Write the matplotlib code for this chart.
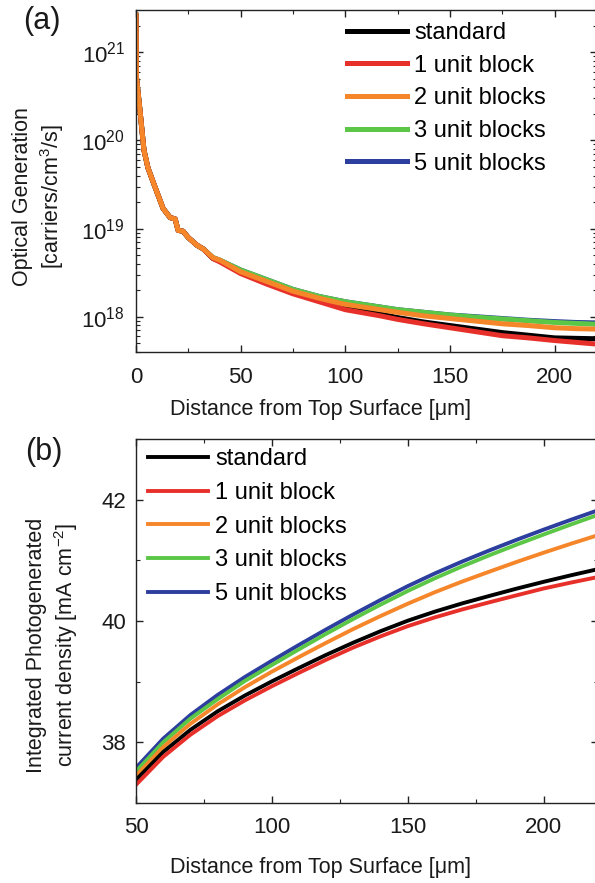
import numpy as np
import matplotlib.pyplot as plt
from matplotlib.ticker import MultipleLocator, LogLocator, LogFormatterSciNotation, NullFormatter

plt.rcParams['font.family'] = ['Liberation Sans', 'DejaVu Sans']
plt.rcParams['mathtext.fontset'] = 'custom'
plt.rcParams['mathtext.rm'] = 'Liberation Sans'
plt.rcParams['mathtext.it'] = 'Liberation Sans:italic'
plt.rcParams['mathtext.bf'] = 'Liberation Sans:bold'

# (a) optical generation profile, stored as log10(G)
depth_a = [0, 0.2, 1.9, 3.8, 5.7, 9.1, 11.5, 12.9, 16.3, 18.7, 20.1, 22.5, 24.9,
           29.2, 32.1, 36.8, 40.2, 50, 62.5, 75, 87.5, 100, 116.7, 125, 137.5,
           150, 162.5, 175, 187.5, 200, 210, 220]
head = [21.42, 20.72, 20.34, 19.89, 19.69, 19.47, 19.32, 19.23, 19.125, 19.11,
        18.98, 18.97, 18.90, 18.81, 18.77]
gen_blue = head + [18.67, 18.64, 18.53, 18.42, 18.31, 18.23, 18.17, 18.11, 18.08,
                   18.05, 18.02, 18.00, 17.98, 17.96, 17.945, 17.935, 17.93]
gen_green = head + [18.67, 18.64, 18.53, 18.42, 18.31, 18.23, 18.17, 18.11, 18.08,
                    18.05, 18.02, 17.995, 17.975, 17.955, 17.935, 17.925, 17.915]
gen_orange = head + [18.67, 18.64, 18.51, 18.40, 18.29, 18.21, 18.14, 18.08, 18.05,
                     18.01, 17.98, 17.95, 17.92, 17.90, 17.875, 17.865, 17.86]
gen_black = head + [18.66, 18.63, 18.50, 18.38, 18.27, 18.18, 18.10, 18.03, 17.99,
                    17.94, 17.90, 17.86, 17.82, 17.79, 17.76, 17.755, 17.75]
gen_red = head + [18.66, 18.62, 18.49, 18.37, 18.26, 18.17, 18.08, 18.01, 17.97,
                  17.92, 17.875, 17.83, 17.785, 17.76, 17.73, 17.71, 17.69]

# (b) integrated photogenerated current density [mA/cm2]
depth_b = [50, 60, 70, 80, 90, 100, 110, 120, 130, 140, 150, 160, 170, 180, 190, 200, 210, 220]
jph_blue = [37.58, 38.06, 38.45, 38.78, 39.075, 39.345, 39.607, 39.862, 40.109, 40.347,
            40.575, 40.785, 40.98, 41.163, 41.338, 41.506, 41.668, 41.825]
jph_green = [37.52, 38.00, 38.39, 38.71, 39.01, 39.275, 39.535, 39.79, 40.035, 40.27,
             40.495, 40.705, 40.90, 41.083, 41.258, 41.426, 41.59, 41.75]
jph_orange = [37.45, 37.922, 38.304, 38.624, 38.907, 39.165, 39.407, 39.642, 39.869, 40.082,
              40.285, 40.475, 40.65, 40.813, 40.973, 41.126, 41.273, 41.415]
jph_black = [37.38, 37.84, 38.205, 38.51, 38.77, 39.005, 39.227, 39.442, 39.644, 39.832,
             40.005, 40.155, 40.29, 40.413, 40.533, 40.646, 40.753, 40.855]
jph_red = [37.30, 37.76, 38.125, 38.43, 38.69, 38.925, 39.147, 39.362, 39.564, 39.747,
           39.915, 40.06, 40.19, 40.308, 40.423, 40.536, 40.633, 40.725]

labels = ['standard', '1 unit block', '2 unit blocks', '3 unit blocks', '5 unit blocks']
colors = ['#000000', '#e8302a', '#f5862a', '#5cc646', '#2c3f9e']

W, H = 595, 883
fig = plt.figure(figsize=(W / 100, H / 100), dpi=100)


def px_axes(left, top, right, bottom):
    return fig.add_axes([left / W, 1 - bottom / H, (right - left) / W, (bottom - top) / H])


def style(ax):
    for s in ax.spines.values():
        s.set_linewidth(1.0)
        s.set_color('#222222')
    ax.tick_params(which='both', direction='in', top=True, right=True,
                   colors='#222222', labelcolor='#1a1a1a', labelsize=15)
    ax.tick_params(which='major', length=5, width=1)
    ax.tick_params(which='minor', length=3, width=0.8)


# ---- panel (a)
ax1 = px_axes(136, 10, 596.5, 352)
series_a = [gen_black, gen_red, gen_orange, gen_green, gen_blue]
handles = {}
for i in [4, 3, 0, 1, 2]:
    handles[i], = ax1.plot(depth_a, 10 ** np.array(series_a[i]), color=colors[i],
                           lw=3.6, solid_joinstyle='round')
ax1.set_yscale('log')
ax1.set_xlim(0, 220)
ax1.set_ylim(10 ** 17.6, 10 ** 21.48)
ax1.xaxis.set_major_locator(MultipleLocator(50))
ax1.xaxis.set_minor_locator(MultipleLocator(25))
ax1.yaxis.set_major_locator(LogLocator(base=10, numticks=10))
ax1.yaxis.set_minor_locator(LogLocator(base=10, subs=np.arange(2, 10), numticks=20))
ax1.yaxis.set_major_formatter(LogFormatterSciNotation())
ax1.yaxis.set_minor_formatter(NullFormatter())
style(ax1)
ax1.tick_params(axis='y', which='both', pad=8)
ax1.tick_params(axis='y', labelsize=16)
ax1.tick_params(axis='x', pad=11, labelsize=16)
ax1.legend([handles[i] for i in range(5)], labels, loc='upper left',
           bbox_to_anchor=(347 / W, 1 - 22 / H), bbox_transform=fig.transFigure,
           frameon=False, fontsize=17, handlelength=2.55, handletextpad=0.3,
           labelspacing=0.45, borderpad=0, borderaxespad=0)

# ---- panel (b)
ax2 = px_axes(136, 439, 598, 803)
series_b = [jph_black, jph_red, jph_orange, jph_green, jph_blue]
hb = {}
for i in [4, 3, 2, 0, 1]:
    hb[i], = ax2.plot(depth_b, series_b[i], color=colors[i], lw=2.8)
ax2.set_xlim(50, 220)
ax2.set_ylim(37, 43)
ax2.xaxis.set_major_locator(MultipleLocator(50))
ax2.xaxis.set_minor_locator(MultipleLocator(25))
ax2.yaxis.set_major_locator(MultipleLocator(2))
ax2.yaxis.set_minor_locator(MultipleLocator(1))
style(ax2)
ax2.tick_params(axis='y', pad=7, labelsize=16)
ax2.tick_params(axis='x', pad=10, labelsize=16)
ax2.legend([hb[i] for i in range(5)], labels, loc='upper left',
           bbox_to_anchor=(148 / W, 1 - 448 / H), bbox_transform=fig.transFigure,
           frameon=False, fontsize=17, handlelength=2.55, handletextpad=0.3,
           labelspacing=0.5, borderpad=0, borderaxespad=0)

# axis titles and panel tags
fig.text(320 / W, 1 - 410 / H, 'Distance from Top Surface [μm]', fontsize=15.5,
         ha='center', va='center', color='#1a1a1a')
fig.text(320 / W, 1 - 867 / H, 'Distance from Top Surface [μm]', fontsize=15.5,
         ha='center', va='center', color='#1a1a1a')
fig.text(39 / W, 1 - 197 / H, 'Optical Generation\n[carriers/cm$^3$/s]', fontsize=15.5,
         rotation=90, ha='center', va='center', multialignment='center', color='#1a1a1a')
fig.text(53 / W, 1 - 645 / H, 'Integrated Photogenerated\ncurrent density [mA cm$^{-2}$]',
         fontsize=15.5, rotation=90, ha='center', va='center', multialignment='center',
         color='#1a1a1a')
fig.text(23 / W, 1 - 21 / H, '(a)', fontsize=22, ha='left', va='center', color='#1a1a1a')
fig.text(25 / W, 1 - 452 / H, '(b)', fontsize=22, ha='left', va='center', color='#1a1a1a')

fig.savefig('out.png', dpi=100)
